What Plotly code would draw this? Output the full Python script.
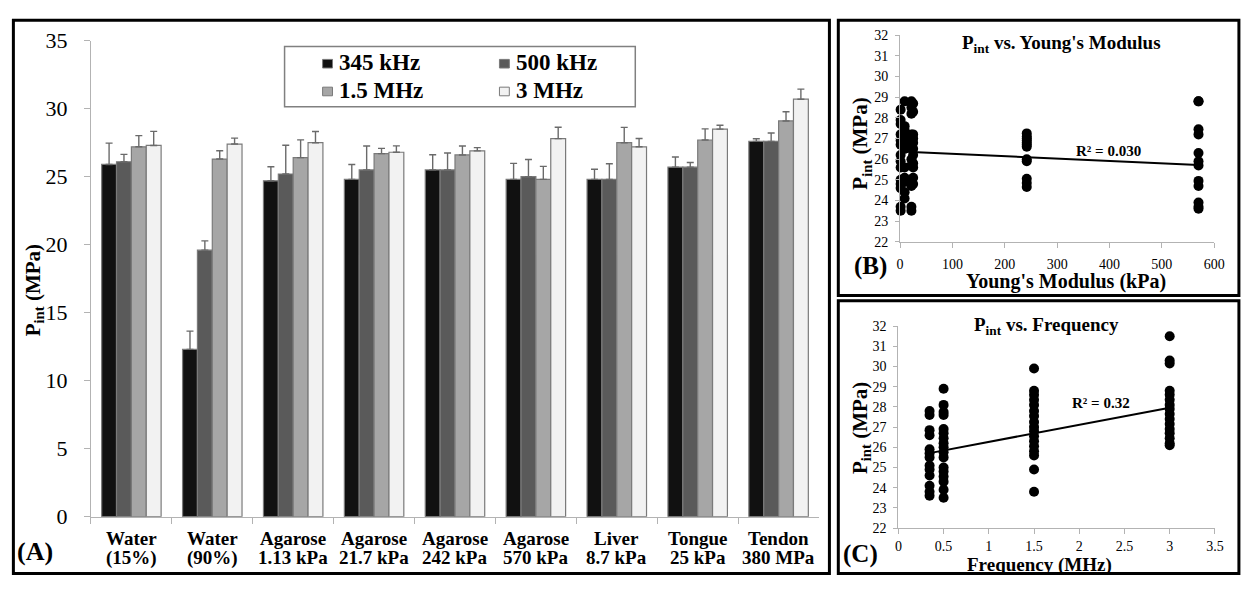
import plotly.graph_objects as go

W, H = 1243, 589
FONT = "Liberation Serif, Times New Roman, DejaVu Serif, serif"

# ---- Panel A: mean intrinsic threshold by sample and frequency ----
categories = ["Water (15%)", "Water (90%)", "Agarose 1.13 kPa", "Agarose 21.7 kPa",
              "Agarose 242 kPa", "Agarose 570 kPa", "Liver 8.7 kPa",
              "Tongue 25 kPa", "Tendon 380 MPa"]
cat_line1 = ["Water", "Water", "Agarose", "Agarose", "Agarose", "Agarose", "Liver",
             "Tongue", "Tendon"]
cat_line2 = ["(15%)", "(90%)", "1.13 kPa", "21.7 kPa", "242 kPa", "570 kPa", "8.7 kPa",
             "25 kPa", "380 MPa"]
freq_labels = ["345 kHz", "500 kHz", "1.5 MHz", "3 MHz"]

p345 = [25.9, 12.3, 24.7, 24.8, 25.5, 24.8, 24.8, 25.7, 27.6]
sd345 = [1.57, 1.34, 1.03, 1.10, 1.12, 1.18, 0.75, 0.75, 0.19]
p500 = [26.1, 19.6, 25.2, 25.5, 25.5, 25.0, 24.8, 25.7, 27.6]
sd500 = [0.54, 0.68, 2.11, 1.76, 1.24, 1.26, 1.15, 0.35, 0.61]
p1500 = [27.2, 26.3, 26.4, 26.7, 26.6, 24.8, 27.5, 27.7, 29.1]
sd1500 = [0.82, 0.61, 1.31, 0.38, 0.66, 0.96, 1.13, 0.82, 0.68]
p3000 = [27.3, 27.4, 27.5, 26.8, 26.9, 27.8, 27.2, 28.5, 30.7]
sd3000 = [1.03, 0.44, 0.82, 0.47, 0.24, 0.84, 0.61, 0.28, 0.74]

bar_colors = ["#111111", "#5a5a5a", "#a6a6a6", "#f2f2f2"]

# ---- Panel B: threshold vs. Young's modulus ----
E_kpa = [1.13, 8.7, 21.7, 25.0, 242.0, 570.0]
pint_by_E = [
    [28.4, 27.9, 27.7, 27.2, 26.9, 26.7, 26.2, 25.9, 25.6, 25.0, 24.8, 24.6, 23.7, 23.5],
    [28.8, 27.6, 27.4, 27.0, 26.8, 26.5, 25.6, 25.1, 24.9, 24.4, 24.1],
    [28.8, 28.5, 28.2, 27.2, 26.9, 26.6, 26.0, 25.7, 25.0, 24.7, 23.7, 23.5],
    [28.7, 28.3, 27.2, 27.0, 26.8, 26.5, 26.2, 25.8, 25.6, 25.1, 24.8],
    [27.25, 27.1, 27.0, 26.9, 26.8, 26.7, 26.6, 26.0, 25.9, 25.05, 24.85, 24.65],
    [28.8, 28.8, 27.45, 27.2, 26.3, 25.9, 25.7, 24.95, 24.7, 23.9, 23.7, 23.6],
]
trend_E = (26.38, -0.00116)   # intercept, slope
r2_E = "R² = 0.030"

# ---- Panel C: threshold vs. frequency ----
freq_mhz = [0.345, 0.5, 1.5, 3.0]
pint_by_f = [
    [27.8, 27.6, 26.85, 26.6, 25.9, 25.7, 25.5, 25.1, 24.9, 24.6, 24.1, 23.8, 23.6],
    [28.9, 28.1, 27.75, 27.6, 26.9, 26.7, 26.45, 26.2, 26.0, 25.75, 25.5, 25.0, 24.8,
     24.55, 24.3, 23.9, 23.5],
    [29.9, 28.8, 28.6, 28.35, 28.1, 27.8, 27.55, 27.25, 27.0, 26.8, 26.55, 26.3, 26.05,
     25.8, 25.6, 24.9, 23.8],
    [31.5, 30.3, 30.15, 28.8, 28.6, 28.35, 28.1, 27.9, 27.65, 27.4, 27.15, 26.9, 26.7,
     26.45, 26.2, 26.1],
]
trend_f = (25.42, 0.847)
r2_f = "R² = 0.32"


def px(x):
    return x / W


def py(y):
    return 1 - y / H


fig = go.Figure()

for name, vals, errs, col in zip(freq_labels, [p345, p500, p1500, p3000],
                                 [sd345, sd500, sd1500, sd3000], bar_colors):
    fig.add_trace(go.Bar(
        x=categories, y=vals, name=name, showlegend=False,
        marker=dict(color=col, line=dict(color="#7a7a7a", width=1.2)),
        error_y=dict(type="data", symmetric=False, array=errs,
                     arrayminus=[0] * len(errs), color="#6a6a6a",
                     thickness=1.4, width=3.5),
        xaxis="x", yaxis="y",
    ))

# scatter B
xb, yb = [], []
for e, vals in zip(E_kpa, pint_by_E):
    xb += [e] * len(vals)
    yb += vals
fig.add_trace(go.Scatter(x=xb, y=yb, mode="markers", showlegend=False, cliponaxis=False,
                         marker=dict(color="black", size=10), xaxis="x2", yaxis="y2"))
xe = [min(E_kpa), max(E_kpa)]
fig.add_trace(go.Scatter(x=xe, y=[trend_E[0] + trend_E[1] * v for v in xe], mode="lines",
                         showlegend=False, line=dict(color="black", width=2),
                         xaxis="x2", yaxis="y2"))

# scatter C
xc, yc = [], []
for f, vals in zip(freq_mhz, pint_by_f):
    xc += [f] * len(vals)
    yc += vals
fig.add_trace(go.Scatter(x=xc, y=yc, mode="markers", showlegend=False, cliponaxis=False,
                         marker=dict(color="black", size=10), xaxis="x3", yaxis="y3"))
xf = [min(freq_mhz), max(freq_mhz)]
fig.add_trace(go.Scatter(x=xf, y=[trend_f[0] + trend_f[1] * v for v in xf], mode="lines",
                         showlegend=False, line=dict(color="black", width=2),
                         xaxis="x3", yaxis="y3"))

axis_gray = "#b3b3b3"
common = dict(showgrid=False, zeroline=False, showline=True, linecolor=axis_gray,
              ticks="outside", tickcolor=axis_gray, linewidth=1)
tick_small = dict(size=14, family=FONT, color="black")

fig.update_layout(
    width=W, height=H, margin=dict(l=0, r=0, t=0, b=0),
    paper_bgcolor="white", plot_bgcolor="white",
    barmode="group", bargap=0.265, bargroupgap=0,
    font=dict(family=FONT, color="black"),
    xaxis=dict(domain=[px(88), px(825)], anchor="y", type="category", tickson="boundaries",
               ticklen=6, showticklabels=False, **common),
    yaxis=dict(domain=[py(527), py(30)], anchor="x", range=[0, 35], dtick=5, ticklen=6,
               tickfont=dict(size=22, family=FONT, color="black"), ticklabelstandoff=12,
               **common),
    xaxis2=dict(domain=[px(907), px(1225)], anchor="y2", range=[0, 600], dtick=100,
                ticklen=5, tickfont=tick_small, ticklabelstandoff=4, **common),
    yaxis2=dict(domain=[py(240), py(24.3)], anchor="x2", range=[22, 32], dtick=1,
                ticklen=4, tickfont=tick_small, ticklabelstandoff=4, **common),
    xaxis3=dict(domain=[px(905.3), px(1225.7)], anchor="y3", range=[0, 3.5], dtick=0.5,
                ticklen=5, tickfont=tick_small, ticklabelstandoff=0, **common),
    yaxis3=dict(domain=[py(539), py(328)], anchor="x3", range=[22, 32], dtick=1,
                ticklen=4, tickfont=tick_small, ticklabelstandoff=4, **common),
)

shapes = []
# panel frames
shapes.append(dict(type="rect", xref="paper", yref="paper", x0=px(9.5), x1=px(835.5),
                   y0=py(586.5), y1=py(8.5), line=dict(color="black", width=3)))
shapes.append(dict(type="rect", xref="paper", yref="paper", x0=px(844.5), x1=px(1250),
                   y0=py(296), y1=py(8.5), line=dict(color="black", width=3)))
shapes.append(dict(type="rect", xref="paper", yref="paper", x0=px(844.5), x1=px(1250),
                   y0=py(586.5), y1=py(301.5), line=dict(color="black", width=3)))
# legend frame and swatches
shapes.append(dict(type="rect", xref="paper", yref="paper", x0=px(284), x1=px(639),
                   y0=py(99), y1=py(36), line=dict(color="#808080", width=1.5)))

annotations = []
leg_pos = [(322.5, 54), (501.5, 54), (322.5, 83), (501.5, 83)]
for (lx, ly), name, col in zip(leg_pos, freq_labels, bar_colors):
    shapes.append(dict(type="rect", xref="paper", yref="paper", x0=px(lx), x1=px(lx + 10),
                       y0=py(ly + 4.5), y1=py(ly - 4.5), fillcolor=col,
                       line=dict(color="#7a7a7a", width=1)))
    annotations.append(dict(x=px(lx + 15), y=py(ly - 1), xref="paper", yref="paper",
                            text=f"<b>{name}</b>", showarrow=False, xanchor="left",
                            yanchor="middle", font=dict(size=23, family=FONT)))

# two-line category labels under the bar groups
for cat, l1, l2 in zip(categories, cat_line1, cat_line2):
    for txt, yy in ((l1, 550), (l2, 570)):
        annotations.append(dict(x=cat, xref="x", y=py(yy), yref="paper",
                                text=f"<b>{txt}</b>", showarrow=False, xanchor="center",
                                yanchor="middle", font=dict(size=19, family=FONT)))


def note(x, y, text, size, angle=0):
    annotations.append(dict(x=px(x), y=py(y), xref="paper", yref="paper",
                            text=f"<b>{text}</b>", showarrow=False,
                            xanchor="center", yanchor="middle", textangle=angle,
                            font=dict(size=size, family=FONT)))


note(30, 291, "P<sub>int</sub> (MPa)", 21, angle=-90)
note(31, 563, "(A)", 26)
note(1070, 33, "P<sub>int</sub> vs. Young's Modulus", 19)
note(868, 138, "P<sub>int</sub> (MPa)", 21, angle=-90)
note(1075, 281, "Young's Modulus (kPa)", 20)
note(877, 265, "(B)", 25)
note(1118, 145, r2_E, 15)
note(1055, 328, "P<sub>int</sub> vs. Frequency", 19)
note(867, 435, "P<sub>int</sub> (MPa)", 21, angle=-90)
note(1048, 577, "Frequency (MHz)", 19)
note(867, 566, "(C)", 25)
note(1110, 408, r2_f, 15)

fig.update_layout(shapes=shapes, annotations=annotations)
fig.write_html("out.html")
